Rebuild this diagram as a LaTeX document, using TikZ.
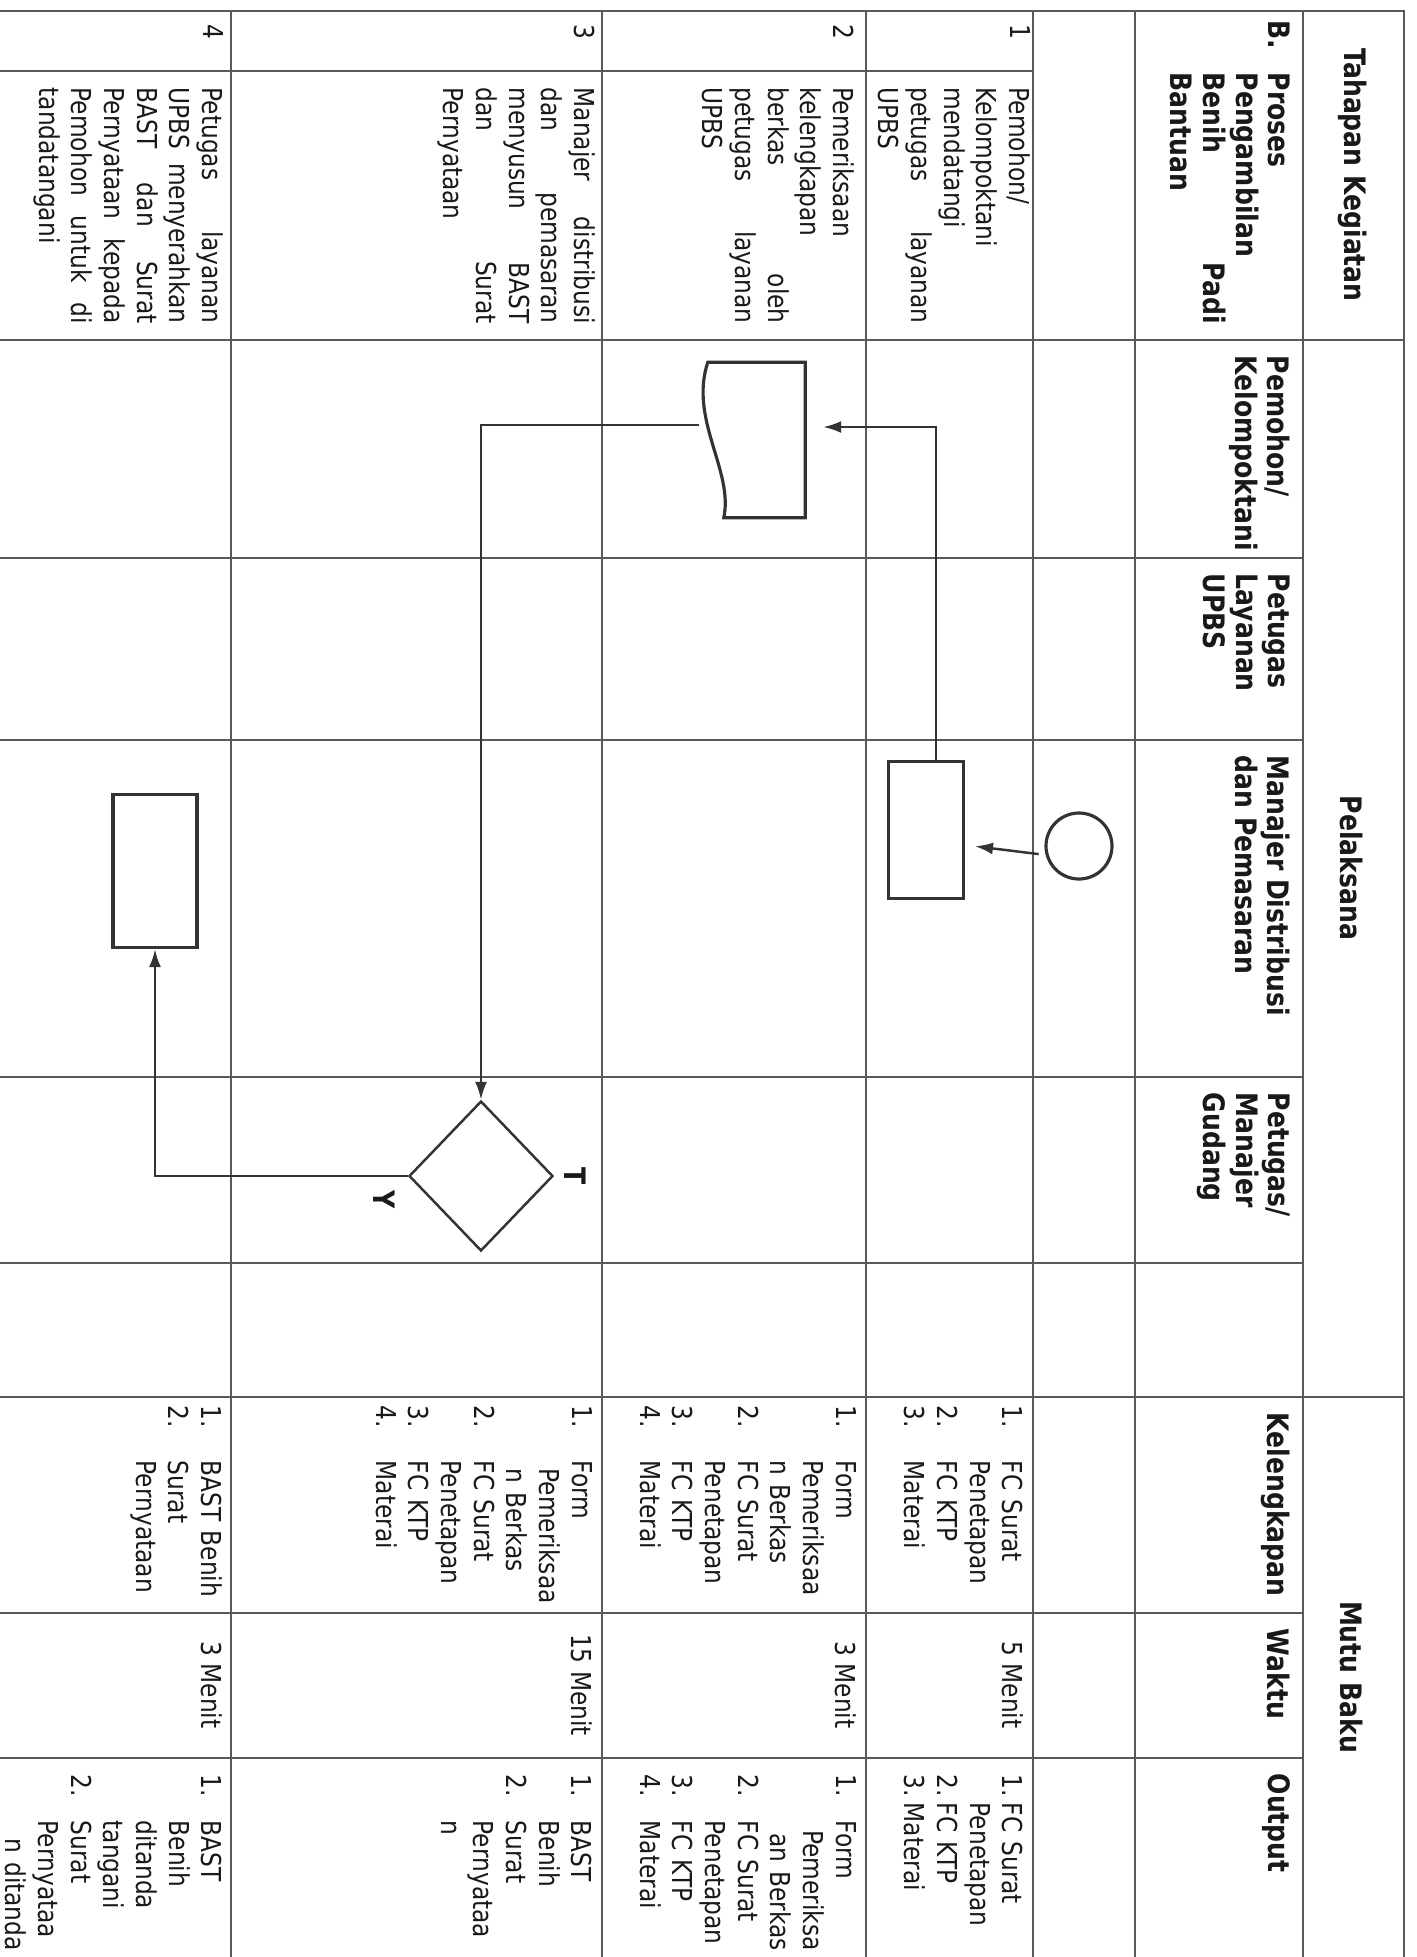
\documentclass[tikz,border=0pt]{standalone}
\usepackage{fontspec}
\setmainfont{DejaVu Sans}[FakeStretch=0.85]
\usetikzlibrary{arrows.meta,shapes.geometric}

\newcommand{\cellfont}{\fontsize{7.8}{9.3}\selectfont\hyphenpenalty=10000\relax}
\newcommand{\nb}[3][5.5mm]{\makebox[#1][l]{#2}#3}
\newcommand{\ct}[1][5.5mm]{\hspace*{#1}}
\newcommand{\rl}[1]{\hspace*{\fill}\llap{#1}}
\newcommand{\jf}{\hspace{\fill}}

\tikzset{
  tblline/.style={line width=0.5pt,black!65},
  celltxt/.style={anchor=north west,rotate=-90,inner sep=0pt,align=left,text=black!90,font=\cellfont},
  hdr/.style={rotate=-90,inner sep=0pt,align=left,text=black!90,font=\fontsize{8.4}{9.3}\selectfont\bfseries},
  shp/.style={draw=black!80,line width=0.9pt,inner sep=0pt},
  flow/.style={draw=black!80,line width=0.7pt,-{Latex[length=1.8mm,width=1.2mm]}},
}

\begin{document}
\begin{tikzpicture}[x=0.1mm,y=-0.1mm]
\fill[white] (0,0) rectangle (1417,1957);
\useasboundingbox (0,0) rectangle (1417,1957);

% table
\draw[tblline] (0,11) -- (1404,11) -- (1404,1957);
\draw[tblline] (1303,11) -- (1303,1957);
\draw[tblline] (1135,11) -- (1135,1957);
\draw[tblline] (1033,11) -- (1033,1957);
\draw[tblline] (866,11) -- (866,1957);
\draw[tblline] (602,11) -- (602,1957);
\draw[tblline] (231,11) -- (231,1957);
\draw[tblline] (0,340) -- (1404,340);
\draw[tblline] (0,1397) -- (1404,1397);
\draw[tblline] (0,558) -- (1303,558);
\draw[tblline] (0,740) -- (1303,740);
\draw[tblline] (0,1077) -- (1303,1077);
\draw[tblline] (0,1263) -- (1303,1263);
\draw[tblline] (0,1613) -- (1303,1613);
\draw[tblline] (0,1758) -- (1303,1758);
\draw[tblline] (0,71) -- (1033,71);

\node[hdr] (hTahapan) at (1353,175) {Tahapan Kegiatan};
\node[hdr] (hPelaksana) at (1351,868) {Pelaksana};
\node[hdr] (hMutu) at (1351,1677) {Mutu Baku};

\node[hdr,anchor=north west,text width=30.3mm] (hProses) at (1291,20) {\makebox[5.2mm][l]{B.}Proses\\\hspace*{5.2mm}Pengambilan\\\hspace*{5.2mm}Benih\jf Padi\\\hspace*{5.2mm}Bantuan};
\node[hdr,anchor=north west] (hPemohon) at (1291,355) {Pemohon/\\Kelompoktani};
\node[hdr,anchor=north west] (hLayanan) at (1291,573) {Petugas\\Layanan\\UPBS};
\node[hdr,anchor=north west] (hManajer) at (1291,755) {Manajer Distribusi\\dan Pemasaran};
\node[hdr,anchor=north west] (hGudang) at (1291,1092) {Petugas/\\Manajer\\Gudang};
\node[hdr,anchor=north west] (hKelengkapan) at (1291,1412) {Kelengkapan};
\node[hdr,anchor=north west] (hWaktu) at (1291,1628) {Waktu};
\node[hdr,anchor=north west] (hOutput) at (1291,1773) {Output};

\node[celltxt] (no1) at (1031,24) {1};
\node[celltxt] (no2) at (855,24) {2};
\node[celltxt] (no3) at (596,24) {3};
\node[celltxt] (no4) at (224,24) {4};

\node[celltxt,text width=23.6mm] (tahap1) at (1031,87) {Pemohon/\\Kelompoktani\\mendatangi\\petugas\jf layanan\\UPBS};
\node[celltxt,text width=23.6mm] (tahap2) at (855,87) {Pemeriksaan\\kelengkapan\\berkas\jf oleh\\petugas\jf layanan\\UPBS};
\node[celltxt,text width=23.6mm] (tahap3) at (596,87) {Manajer\jf distribusi\\dan\jf pemasaran\\menyusun\jf BAST\\dan\jf Surat\\Pernyataan};
\node[celltxt,text width=23.6mm] (tahap4) at (224,87) {Petugas\jf layanan\\UPBS\jf menyerahkan\\BAST\jf dan\jf Surat\\Pernyataan\jf kepada\\Pemohon\jf untuk\jf di\\tandatangani};

\node[celltxt,text width=20.5mm] (leng1) at (1024,1405) {\nb{1.}{FC Surat}\\\ct Penetapan\\\nb{2.}{FC KTP}\\\nb{3.}{Materai}};
\node[celltxt,text width=20.5mm] (leng2) at (857,1405) {\nb{1.}{Form}\\\ct Pemeriksaa\\\ct n Berkas\\\nb{2.}{FC Surat}\\\ct Penetapan\\\nb{3.}{FC KTP}\\\nb{4.}{Materai}};
\node[celltxt,text width=20.5mm] (leng3) at (593,1405) {\nb{1.}{Form}\\\ct[6.3mm]Pemeriksaa\\\ct[6.3mm]n Berkas\\\nb{2.}{FC Surat}\\\ct Penetapan\\\nb{3.}{FC KTP}\\\nb{4.}{Materai}};
\node[celltxt,text width=20.5mm] (leng4) at (223,1405) {\nb{1.}{BAST Benih}\\\nb{2.}{Surat}\\\ct Pernyataan};

\node[celltxt,anchor=north] (waktu1) at (1024,1685) {5 Menit};
\node[celltxt,anchor=north] (waktu2) at (857,1685) {3 Menit};
\node[celltxt,anchor=north] (waktu3) at (593,1685) {15 Menit};
\node[celltxt,anchor=north] (waktu4) at (223,1685) {3 Menit};

\node[celltxt,text width=17.6mm] (out1) at (1024,1774) {\nb[2.8mm]{1.}{FC Surat}\\\ct[2.8mm]Penetapan\\\nb[2.8mm]{2.}{FC KTP}\\\nb[2.8mm]{3.}{Materai}};
\node[celltxt,text width=17.6mm] (out2) at (857,1774) {\nb[4.6mm]{1.}{Form}\\\rl{Pemeriksa}\\\rl{an Berkas}\\\nb[4.6mm]{2.}{FC Surat}\\\ct[4.6mm]Penetapan\\\nb[4.6mm]{3.}{FC KTP}\\\nb[4.6mm]{4.}{Materai}};
\node[celltxt,text width=17.6mm] (out3) at (593,1774) {\nb[4.6mm]{1.}{BAST}\\\ct[4.6mm]Benih\\\nb[4.6mm]{2.}{Surat}\\\ct[4.6mm]Pernyataa\\\ct[4.6mm]n};
\node[celltxt,text width=17.6mm] (out4) at (223,1774) {\nb[4.6mm]{1.}{BAST}\\\ct[4.6mm]Benih\\\ct[4.6mm]ditanda\\\ct[4.6mm]tangani\\\nb[4.6mm]{2.}{Surat}\\\ct[4.6mm]Pernyataa\\\rl{n ditanda}};

% flow
\node[shp,circle,minimum size=6.6mm] (start) at (1079,846) {};
\node[shp,minimum width=7.5mm,minimum height=13.7mm] (cek) at (926,830) {};
\node[inner sep=0pt,minimum width=10.5mm,minimum height=15.4mm] (doc) at (752,440) {};
\draw[shp] (doc.north east) -- (doc.south east) -- ([xshift=2.5mm]doc.south west)
  .. controls ([xshift=3.5mm,yshift=4.7mm]doc.south west) and ([xshift=-1mm,yshift=-5.7mm]doc.north west) .. ([xshift=0.9mm]doc.north west) -- cycle;
\node[shp,diamond,line width=0.7pt,minimum width=14.4mm,minimum height=15mm] (dec) at (481,1176) {};
\node[shp,minimum width=8.4mm,minimum height=15.3mm] (serah) at (155,871) {};
\node[hdr] (lblT) at (575,1176) {T};
\node[hdr] (lblY) at (384,1200) {Y};

\draw[flow,shorten <=0.7mm,shorten >=1mm] (start.195) -- ([yshift=-1.5mm]cek.east);
\draw[flow,shorten >=1.8mm] ([xshift=1mm]cek.north) |- ([yshift=1.3mm]doc.east);
\draw[flow] ([yshift=1.5mm]doc.west) -| (dec.north);
\draw[flow] (dec.west) -| (serah.south);
\end{tikzpicture}
\end{document}
